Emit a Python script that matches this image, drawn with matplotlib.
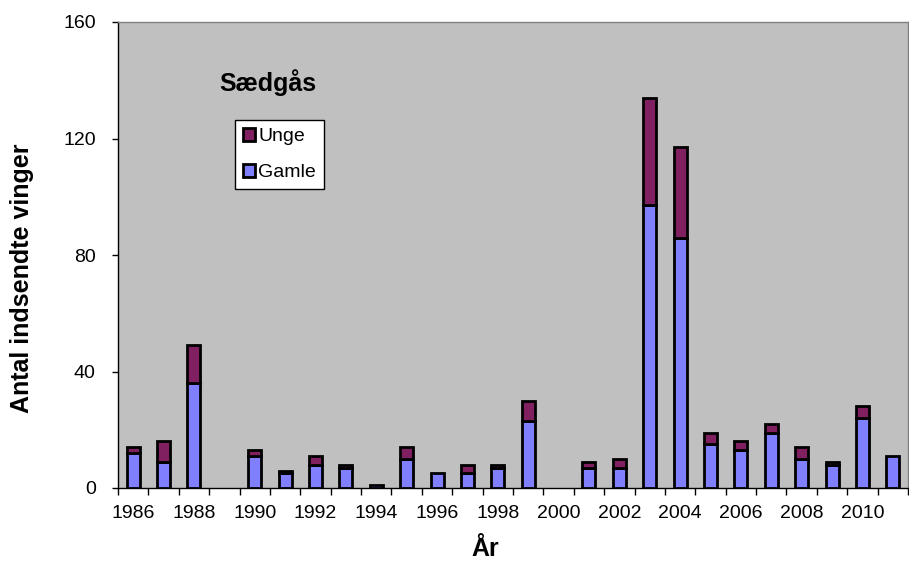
import matplotlib
matplotlib.use("Agg")
import matplotlib.pyplot as plt
import numpy as np

years = list(range(1986, 2012))
gamle = [12, 9, 36, 0, 11, 5, 8, 7, 1, 10, 5, 5, 7, 23, 0, 7, 7, 97, 86, 15, 13, 19, 10, 8, 24, 11]
unge = [2, 7, 13, 0, 2, 1, 3, 1, 0, 4, 0, 3, 1, 7, 0, 2, 3, 37, 31, 4, 3, 3, 4, 1, 4, 0]

plt.rcParams['font.family'] = ['Liberation Sans', 'DejaVu Sans']

fig = plt.figure(figsize=(9.09, 5.66), dpi=100)
ax = fig.add_axes([118/909, 78/566, 790/909, 466/566])
ax.set_facecolor('#C0C0C0')

x = np.arange(len(years))
g = np.array(gamle, dtype=float)
u = np.array(unge, dtype=float)
w = 0.43
mg = g > 0
mu = u > 0
ax.bar(x[mg], g[mg], width=w, color='#8080FF', edgecolor='black', linewidth=2, label='Gamle', zorder=3)
ax.bar(x[mu], u[mu], width=w, bottom=g[mu], color='#802060', edgecolor='black', linewidth=2, label='Unge', zorder=3)

ax.set_xlim(-0.5, len(years) - 0.5)
ax.set_ylim(0, 160)
ax.set_yticks([0, 40, 80, 120, 160])
ax.tick_params(axis='y', labelsize=14, length=4, width=1, direction='out', pad=12)

ax.set_xticks(x)
ax.set_xticklabels([str(y) for y in years])
for lbl, y in zip(ax.get_xticklabels(), years):
    if y % 2 != 0:
        lbl.set_visible(False)
ax.tick_params(axis='x', which='major', length=0, labelsize=14, pad=12)
ax.set_xticks(np.arange(-0.5, len(years), 1), minor=True)
ax.tick_params(axis='x', which='minor', length=5, width=1, direction='out')

for s in ['top', 'right']:
    ax.spines[s].set_color('#808080')
    ax.spines[s].set_linewidth(1)
ax.spines['left'].set_linewidth(1)
ax.spines['bottom'].set_linewidth(1)

ax.set_ylabel('Antal indsendte vinger', fontsize=18, fontweight='bold')
ax.yaxis.set_label_coords((34 - 118) / 790, (488 - 278) / 466)
ax.set_xlabel('År', fontsize=18, fontweight='bold')
ax.xaxis.set_label_coords((485 - 118) / 790, (488 - 537) / 466)
ax.xaxis.label.set_va('top')

ax.text(268/909, 1 - 83/566, 'Sædgås', transform=fig.transFigure, fontsize=18,
        fontweight='bold', ha='center', va='center')

handles, labels = ax.get_legend_handles_labels()
leg = ax.legend(handles[::-1], labels[::-1], loc='upper left',
                bbox_to_anchor=((235 - 118) / 790, (488 - 120) / 466),
                fontsize=14, frameon=True, fancybox=False, framealpha=1,
                edgecolor='black', handlelength=0.65, handleheight=0.65,
                handletextpad=0.15, labelspacing=0.95, borderpad=0.4, borderaxespad=0)
leg.get_frame().set_linewidth(1)

fig.savefig('out.png', dpi=100, facecolor='white')
